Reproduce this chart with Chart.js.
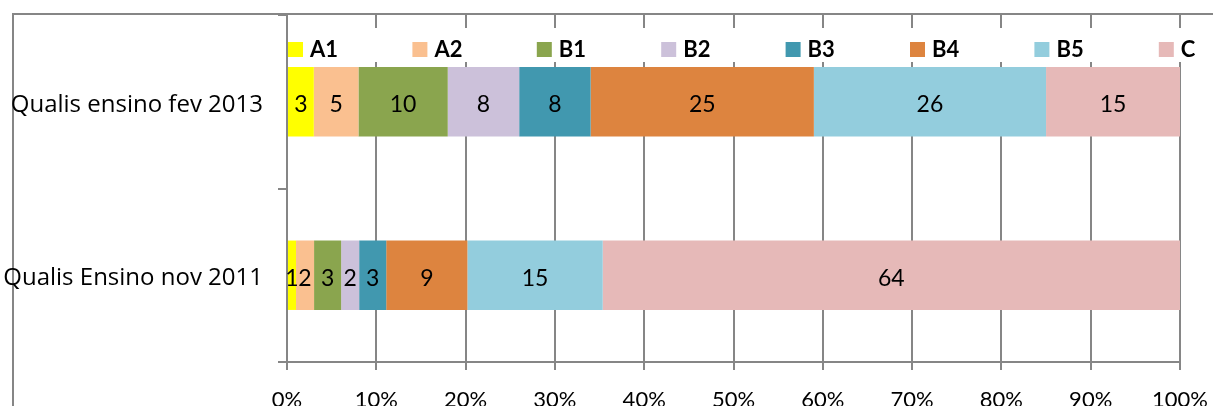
<!DOCTYPE html>
<html>
<head>
<meta charset="utf-8">
<script src="https://cdn.jsdelivr.net/npm/chart.js@4/dist/chart.umd.min.js"></script>
<style>
html,body{margin:0;padding:0;background:#fff;}
#wrap{width:1213px;height:406px;position:relative;}
</style>
</head>
<body>
<div id="wrap"><canvas id="c" width="1213" height="406"></canvas></div>
<script>
const categories = ['Qualis ensino fev 2013', 'Qualis Ensino nov 2011'];
const seriesNames = ['A1', 'A2', 'B1', 'B2', 'B3', 'B4', 'B5', 'C'];
const A1 = [3, 1];
const A2 = [5, 2];
const B1 = [10, 3];
const B2 = [8, 2];
const B3 = [8, 3];
const B4 = [25, 9];
const B5 = [26, 15];
const C  = [15, 64];
const xTicks = [0, 10, 20, 30, 40, 50, 60, 70, 80, 90, 100];
const colors = ['#FFFF00', '#FAC090', '#8AA54E', '#CCC1DA', '#4198AF', '#DD843F', '#93CDDD', '#E6B9B8'];

const seriesValues = [A1, A2, B1, B2, B3, B4, B5, C];
const totals = categories.map((_, i) => seriesValues.reduce((s, arr) => s + arr[i], 0));

const FONT = 'Lato, "Open Sans", sans-serif';
const YFONT = '"Open Sans", Lato, sans-serif';
const GRID = '#868686';

const datasets = seriesNames.map((name, k) => ({
  label: name,
  raw: seriesValues[k],
  data: seriesValues[k].map((v, i) => v / totals[i] * 100),
  backgroundColor: colors[k],
  borderWidth: 0,
  categoryPercentage: 1,
  barPercentage: 0.4
}));

const framePlugin = {
  id: 'frame',
  beforeDraw(chart) {
    const ctx = chart.ctx;
    ctx.save();
    ctx.fillStyle = '#fff';
    ctx.fillRect(0, 0, chart.width, chart.height);
    ctx.strokeStyle = GRID;
    ctx.lineWidth = 2;
    ctx.beginPath();
    ctx.moveTo(13, chart.height);
    ctx.lineTo(13, 14);
    ctx.lineTo(chart.width, 14);
    ctx.stroke();
    ctx.restore();
  }
};

const valueLabels = {
  id: 'valueLabels',
  afterDatasetsDraw(chart) {
    const ctx = chart.ctx;
    ctx.save();
    ctx.font = '23px ' + FONT;
    ctx.fillStyle = '#000';
    ctx.textAlign = 'center';
    ctx.textBaseline = 'middle';
    chart.data.datasets.forEach((ds, di) => {
      const meta = chart.getDatasetMeta(di);
      meta.data.forEach((el, i) => {
        const x = (el.x + el.base) / 2;
        ctx.fillText(String(ds.raw[i]), x, el.y + 3);
      });
    });
    ctx.restore();
  }
};

const legendPlugin = {
  id: 'customLegend',
  afterDraw(chart) {
    const ctx = chart.ctx;
    const area = chart.chartArea;
    ctx.save();
    ctx.fillStyle = '#fff';
    ctx.fillRect(area.left + 1, 28, 1213 - area.left, 34);
    const pitch = 124.4;
    ctx.font = 'bold 22px ' + FONT;
    ctx.textBaseline = 'middle';
    ctx.textAlign = 'left';
    chart.data.datasets.forEach((ds, i) => {
      const x = area.left + 1 + i * pitch;
      ctx.fillStyle = ds.backgroundColor;
      ctx.fillRect(x, 42, 15, 15);
      ctx.fillStyle = '#000';
      ctx.fillText(ds.label, x + 22, 50);
    });
    ctx.restore();
  }
};

new Chart(document.getElementById('c'), {
  type: 'bar',
  data: { labels: categories, datasets },
  options: {
    indexAxis: 'y',
    responsive: false,
    animation: false,
    events: [],
    layout: { padding: { left: 0, right: 33, top: 15, bottom: 0 } },
    plugins: { legend: { display: false }, tooltip: { enabled: false } },
    scales: {
      x: {
        stacked: true,
        min: 0,
        max: 100,
        afterFit(scale) {
          scale.height = 44;
          scale.paddingLeft = 0;
          scale.paddingRight = 0;
        },
        afterBuildTicks(scale) { scale.ticks = xTicks.map(v => ({ value: v })); },
        ticks: {
          callback: v => v + '%',
          color: '#000',
          font: { family: FONT, size: 22 },
          padding: 17,
          maxRotation: 0,
          autoSkip: false
        },
        grid: { color: GRID, lineWidth: 2, tickLength: 8, drawTicks: true },
        border: { color: GRID, width: 2 }
      },
      y: {
        stacked: true,
        afterFit(scale) {
          scale.width = 287;
          scale.paddingTop = 0;
          scale.paddingBottom = 0;
        },
        ticks: {
          color: '#000',
          font: { family: YFONT, size: 24 },
          padding: 15,
          labelOffset: 3
        },
        grid: { offset: true, drawOnChartArea: false, color: GRID, lineWidth: 2, tickLength: 9 },
        border: { color: GRID, width: 2 }
      }
    }
  },
  plugins: [framePlugin, valueLabels, legendPlugin]
});
</script>
</body>
</html>
